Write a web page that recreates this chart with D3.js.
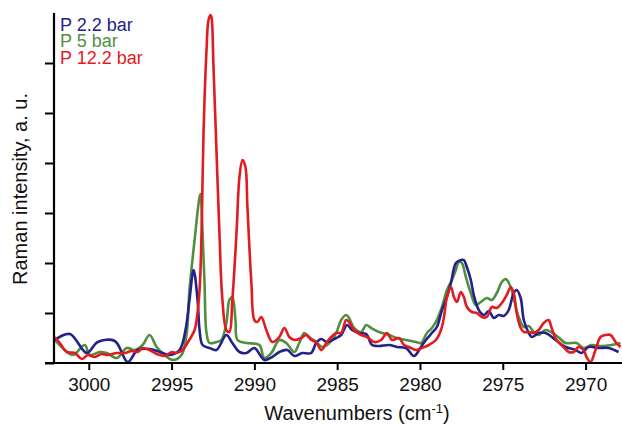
<!DOCTYPE html>
<html><head><meta charset="utf-8">
<script src="https://cdn.jsdelivr.net/npm/d3@7"></script>
<style>body{margin:0;background:#fff}svg{display:block}text{font-family:"Liberation Sans",Arial,sans-serif}</style>
</head><body><svg id="c" width="622" height="427"></svg>
<script>
const seriesNames = ["P 2.2 bar", "P 5 bar", "P 12.2 bar"];
const seriesColors = ["#22228a", "#4f8f3f", "#e31a1f"];
const xTicks = [3000, 2995, 2990, 2985, 2980, 2975, 2970];
const yTicks = [0, 1, 2, 3, 4, 5, 6];

// [wavenumber (cm-1), intensity (a.u.)]
const p22 = [[3002.05,0.46],[3001.14,0.58],[3000.12,0.20],[2999.46,0.42],[2998.43,0.44],[2997.65,0.02],[2997.05,0.26],[2996.33,0.28],[2995.54,0.20],[2995.12,0.16],[2994.52,0.26],[2994.16,0.66],[2993.92,1.26],[2993.67,1.86],[2993.43,1.26],[2993.31,0.66],[2993.13,0.36],[2992.71,0.30],[2992.29,0.26],[2991.69,0.56],[2991.33,0.40],[2990.90,0.22],[2990.48,0.20],[2990.00,0.30],[2989.40,0.06],[2988.92,0.12],[2988.49,0.22],[2988.01,0.26],[2987.59,0.14],[2987.11,0.20],[2986.57,0.20],[2986.27,0.40],[2985.96,0.48],[2985.60,0.42],[2985.06,0.50],[2984.76,0.56],[2984.40,0.76],[2984.10,0.66],[2983.67,0.60],[2983.25,0.58],[2982.89,0.36],[2982.47,0.34],[2981.87,0.36],[2981.39,0.32],[2980.84,0.30],[2980.36,0.14],[2979.94,0.32],[2979.64,0.46],[2979.28,0.60],[2978.98,0.72],[2978.67,1.06],[2978.37,1.32],[2978.13,1.60],[2977.83,2.00],[2977.53,2.06],[2977.35,2.06],[2977.17,1.92],[2976.93,1.66],[2976.75,1.36],[2976.45,1.06],[2976.14,0.96],[2975.84,1.04],[2975.54,0.90],[2975.24,0.96],[2974.94,0.94],[2974.64,1.06],[2974.34,1.40],[2974.16,1.46],[2973.92,1.30],[2973.73,0.86],[2973.43,0.60],[2973.25,0.52],[2972.83,0.60],[2972.41,0.60],[2971.81,0.46],[2971.20,0.32],[2970.60,0.26],[2970.24,0.20],[2969.82,0.32],[2969.22,0.30],[2968.61,0.30],[2968.01,0.22]];

const p5 = [[3002.05,0.46],[3001.45,0.26],[3000.96,0.16],[3000.24,0.36],[2999.94,0.16],[2999.34,0.22],[2998.92,0.20],[2998.31,0.10],[2997.71,0.30],[2997.23,0.26],[2996.75,0.36],[2996.33,0.56],[2995.90,0.32],[2995.42,0.16],[2994.94,0.06],[2994.40,0.16],[2994.10,0.56],[2993.92,1.46],[2993.61,2.46],[2993.31,3.32],[2993.25,3.38],[2993.13,2.60],[2993.01,1.60],[2992.89,0.60],[2992.71,0.40],[2992.29,0.42],[2991.99,0.46],[2991.69,0.80],[2991.51,1.26],[2991.33,1.32],[2991.14,0.86],[2991.02,0.46],[2990.48,0.40],[2989.70,0.36],[2989.40,0.10],[2988.98,0.20],[2988.49,0.46],[2988.07,0.40],[2987.59,0.22],[2987.29,0.40],[2986.99,0.60],[2986.69,0.52],[2986.27,0.42],[2985.90,0.32],[2985.48,0.40],[2985.06,0.60],[2984.76,0.86],[2984.46,0.96],[2984.28,0.90],[2983.98,0.70],[2983.55,0.62],[2983.25,0.76],[2982.95,0.70],[2982.47,0.62],[2981.87,0.56],[2981.39,0.50],[2980.84,0.46],[2980.24,0.42],[2979.94,0.40],[2979.58,0.60],[2979.28,0.70],[2978.98,0.86],[2978.67,1.12],[2978.37,1.46],[2978.07,1.66],[2977.83,1.86],[2977.65,2.02],[2977.47,2.00],[2977.23,1.72],[2976.93,1.40],[2976.63,1.16],[2976.33,1.22],[2975.96,1.30],[2975.66,1.26],[2975.36,1.40],[2975.06,1.62],[2974.82,1.68],[2974.52,1.52],[2974.34,1.30],[2974.04,0.92],[2973.73,0.72],[2973.43,0.74],[2973.13,0.62],[2972.83,0.56],[2972.41,0.66],[2971.81,0.56],[2971.20,0.40],[2970.54,0.40],[2970.12,0.30],[2969.64,0.36],[2969.04,0.34],[2968.43,0.36],[2967.89,0.40]];

const p122 = [[3002.05,0.52],[3001.75,0.40],[3001.33,0.22],[3000.84,0.20],[3000.42,0.08],[3000.06,0.16],[2999.64,0.12],[2999.22,0.18],[2998.86,0.16],[2998.31,0.20],[2997.83,0.20],[2997.41,0.24],[2997.05,0.22],[2996.75,0.30],[2996.33,0.26],[2995.90,0.18],[2995.42,0.14],[2995.00,0.22],[2994.70,0.20],[2994.34,0.26],[2994.04,0.40],[2993.61,0.66],[2993.49,0.86],[2993.31,1.46],[2993.19,2.60],[2993.07,4.60],[2992.89,6.26],[2992.77,6.86],[2992.65,6.96],[2992.59,6.92],[2992.47,5.92],[2992.29,4.26],[2992.11,2.60],[2991.93,1.26],[2991.69,0.66],[2991.51,0.62],[2991.33,1.26],[2991.08,2.60],[2990.90,3.72],[2990.72,4.06],[2990.54,3.92],[2990.42,3.12],[2990.18,1.60],[2990.00,0.86],[2989.82,0.82],[2989.58,0.92],[2989.28,0.66],[2988.92,0.42],[2988.49,0.52],[2988.19,0.70],[2987.89,0.52],[2987.59,0.46],[2987.17,0.50],[2986.87,0.56],[2986.57,0.46],[2986.27,0.42],[2985.96,0.26],[2985.66,0.40],[2985.36,0.52],[2985.06,0.60],[2984.76,0.60],[2984.46,0.86],[2984.28,0.82],[2983.98,0.66],[2983.55,0.56],[2983.19,0.52],[2982.77,0.42],[2982.35,0.46],[2981.99,0.60],[2981.69,0.46],[2981.27,0.50],[2980.96,0.36],[2980.66,0.32],[2980.24,0.26],[2979.88,0.30],[2979.46,0.36],[2979.04,0.46],[2978.73,0.66],[2978.55,0.92],[2978.37,1.32],[2978.13,1.52],[2977.95,1.32],[2977.77,1.22],[2977.53,1.42],[2977.35,1.32],[2977.17,1.12],[2976.87,1.02],[2976.57,1.00],[2976.27,0.92],[2975.96,0.92],[2975.66,1.12],[2975.36,1.10],[2975.06,1.20],[2974.76,1.36],[2974.52,1.52],[2974.34,1.40],[2974.16,1.00],[2973.92,0.70],[2973.73,0.62],[2973.43,0.62],[2973.13,0.60],[2972.83,0.66],[2972.53,0.80],[2972.23,0.86],[2972.05,0.70],[2971.75,0.46],[2971.33,0.32],[2971.02,0.22],[2970.72,0.22],[2970.42,0.32],[2970.12,0.26],[2969.94,0.12],[2969.70,0.02],[2969.40,0.26],[2969.10,0.52],[2968.80,0.56],[2968.49,0.56],[2968.19,0.42],[2967.89,0.32]];

const seriesData = [p22, p5, p122];

const svg = d3.select("#c");
const mLeft = 54, mRight = 622, mTop = 13, mBottom = 363;
const x = d3.scaleLinear().domain([3002.1, 2967.8]).range([mLeft, mRight]);
const y = d3.scaleLinear().domain([0, 7]).range([mBottom, mTop]);

const line = d3.line().x(d => x(d[0])).y(d => y(d[1])).curve(d3.curveCatmullRom.alpha(0.5));

// draw order: green, blue, red
[1, 0, 2].forEach(i => {
  svg.append("path").datum(seriesData[i])
    .attr("fill", "none").attr("stroke", seriesColors[i])
    .attr("stroke-width", 2.6).attr("stroke-linejoin", "round")
    .attr("d", line);
});

// x axis
const xa = svg.append("g").attr("transform", `translate(0,${mBottom})`)
  .call(d3.axisBottom(x).tickValues(xTicks).tickSize(7).tickPadding(8).tickFormat(d3.format("d")));
xa.select(".domain").remove();
xa.selectAll("line").attr("stroke", "#000").attr("stroke-width", 2);
xa.selectAll("text").attr("font-size", 19).attr("fill", "#111").attr("font-family", "Liberation Sans, Arial, sans-serif");
svg.append("line").attr("x1", mLeft - 9).attr("x2", mRight).attr("y1", mBottom).attr("y2", mBottom)
  .attr("stroke", "#000").attr("stroke-width", 2.2);

// y axis
const ya = svg.append("g").attr("transform", `translate(${mLeft},0)`)
  .call(d3.axisLeft(y).tickValues(yTicks).tickSize(9).tickFormat(""));
ya.select(".domain").remove();
ya.selectAll("line").attr("stroke", "#000").attr("stroke-width", 2);
svg.append("line").attr("x1", mLeft).attr("x2", mLeft).attr("y1", mTop).attr("y2", mBottom + 1)
  .attr("stroke", "#000").attr("stroke-width", 2.2);

// axis titles
const xt = svg.append("text").attr("x", 357).attr("y", 420).attr("text-anchor", "middle")
  .attr("font-size", 20).attr("fill", "#111");
xt.append("tspan").text("Wavenumbers (cm");
xt.append("tspan").attr("font-size", 13).attr("dy", -7).text("-1");
xt.append("tspan").attr("dy", 7).text(")");

svg.append("text").attr("transform", "translate(27,189) rotate(-90)").attr("text-anchor", "middle")
  .attr("font-size", 20).attr("fill", "#111").text("Raman intensity, a. u.");

// legend
seriesNames.forEach((n, i) => {
  svg.append("text").attr("x", 60).attr("y", 31 + i * 16.3)
    .attr("font-size", 18).attr("fill", seriesColors[i]).text(n);
});
</script></body></html>
